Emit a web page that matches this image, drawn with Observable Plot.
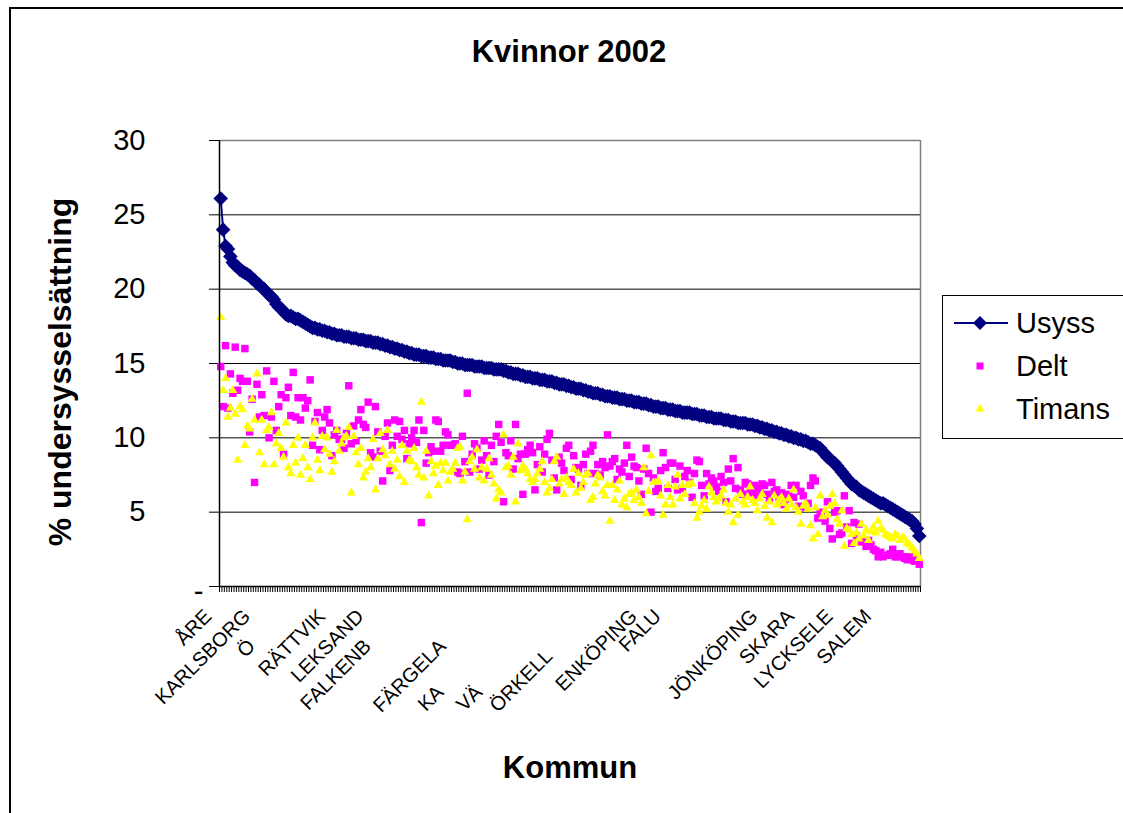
<!DOCTYPE html>
<html>
<head>
<meta charset="utf-8">
<script src="https://cdn.jsdelivr.net/npm/d3@7"></script>
<script src="https://cdn.jsdelivr.net/npm/@observablehq/plot@0.6"></script>
<style>
  html, body { margin: 0; padding: 0; background: #fff; }
  #wrap { position: relative; width: 1123px; height: 813px; overflow: hidden; background: #fff;
          font-family: "Liberation Sans", Arial, sans-serif; color: #000; }
  #frame { position: absolute; left: 9px; top: 7px; width: 1300px; height: 1000px; border: 2px solid #000; box-sizing: border-box; }
  #chart { position: absolute; left: 0; top: 0; }
  .title { position: absolute; font-weight: bold; white-space: nowrap; }
  #title { left: 569px; top: 52px; transform: translate(-50%, -50%); font-size: 31px; }
  #ytitle { left: 60px; top: 372px; transform: translate(-50%, -50%) rotate(-90deg); font-size: 32px; }
  #xtitle { left: 570px; top: 768px; transform: translate(-50%, -50%); font-size: 31px; }
  #legend { position: absolute; left: 942px; top: 295px; width: 300px; height: 144px; border: 1px solid #000; box-sizing: border-box; background: #fff; }
</style>
</head>
<body>
<div id="wrap">
  <div id="frame"></div>
  <div id="chart"></div>
  <div id="title" class="title"></div>
  <div id="ytitle" class="title"></div>
  <div id="xtitle" class="title"></div>
  <div id="legend"></div>
</div>
<script>
// ---------------- data ----------------
const chartTitle = "Kvinnor 2002";
const yTitle = "% undersysselsättning";
const xTitle = "Kommun";
const seriesNames = ["Usyss", "Delt", "Timans"];
const seriesColors = ["#000080", "#FF00FF", "#FFFF00"];

const yTicks = [0, 5, 10, 15, 20, 25, 30];
const gridValues = [5, 10, 15, 20, 25];

// visible category labels (kommun index, text as shown)
const labelsRow1 = [
  {i: 0, name: "ÅRE"}, {i: 16, name: "KARLSBORG"}, {i: 47, name: "RÄTTVIK"},
  {i: 63, name: "LEKSAND"}, {i: 176, name: "ENKÖPING"}, {i: 186, name: "FALU"},
  {i: 226, name: "JÖNKÖPING"}, {i: 241, name: "SKARA"}, {i: 257, name: "LYCKSELE"},
  {i: 273, name: "SALEM"}
];
const labelsRow2 = [
  {i: 18, name: "Ö"}, {i: 66, name: "FALKENB"}, {i: 97, name: "FÄRGELA"}
];
const labelsRow3 = [
  {i: 141, name: "ÖRKELL"}
];
const labelsRow4 = [
  {i: 96, name: "KA"}, {i: 112, name: "VÄ"}
];

const usyss = [
  26.1, 24.0, 22.9, 22.7, 22.2, 21.8, 21.6, 21.5, 21.3, 21.2,
  21.1, 21.0, 20.9, 20.7, 20.6, 20.4, 20.3, 20.1, 20.0, 19.8,
  19.6, 19.5, 19.3, 19.0, 18.8, 18.7, 18.5, 18.3, 18.2, 18.2,
  18.1, 18.0, 18.0, 17.9, 17.8, 17.7, 17.6, 17.5, 17.4, 17.4,
  17.3, 17.3, 17.2, 17.2, 17.1, 17.1, 17.0, 17.0, 16.9, 16.9,
  16.9, 16.8, 16.8, 16.8, 16.7, 16.7, 16.7, 16.6, 16.6, 16.6,
  16.5, 16.5, 16.5, 16.4, 16.4, 16.4, 16.3, 16.3, 16.2, 16.2,
  16.1, 16.1, 16.0, 16.0, 15.9, 15.9, 15.8, 15.8, 15.7, 15.7,
  15.6, 15.6, 15.6, 15.5, 15.5, 15.5, 15.4, 15.4, 15.4, 15.3,
  15.3, 15.3, 15.2, 15.2, 15.2, 15.2, 15.1, 15.1, 15.0, 15.0,
  15.0, 14.9, 14.9, 14.9, 14.9, 14.8, 14.8, 14.8, 14.8, 14.7,
  14.7, 14.7, 14.7, 14.6, 14.6, 14.6, 14.6, 14.5, 14.5, 14.4,
  14.4, 14.3, 14.3, 14.3, 14.2, 14.2, 14.1, 14.1, 14.1, 14.0,
  14.0, 14.0, 13.9, 13.9, 13.9, 13.8, 13.8, 13.8, 13.7, 13.7,
  13.6, 13.6, 13.6, 13.5, 13.5, 13.4, 13.4, 13.3, 13.3, 13.3,
  13.2, 13.2, 13.1, 13.1, 13.0, 13.0, 13.0, 12.9, 12.9, 12.8,
  12.8, 12.8, 12.7, 12.7, 12.7, 12.6, 12.6, 12.6, 12.5, 12.5,
  12.5, 12.4, 12.4, 12.4, 12.3, 12.3, 12.3, 12.2, 12.2, 12.1,
  12.1, 12.1, 12.0, 12.0, 12.0, 11.9, 11.9, 11.9, 11.8, 11.8,
  11.8, 11.7, 11.7, 11.7, 11.7, 11.6, 11.6, 11.6, 11.5, 11.5,
  11.5, 11.4, 11.4, 11.4, 11.3, 11.3, 11.3, 11.3, 11.2, 11.2,
  11.2, 11.1, 11.1, 11.1, 11.0, 11.0, 11.0, 11.0, 10.9, 10.9,
  10.9, 10.8, 10.8, 10.7, 10.7, 10.6, 10.6, 10.5, 10.5, 10.4,
  10.4, 10.3, 10.3, 10.2, 10.2, 10.1, 10.1, 10.0, 10.0, 9.9,
  9.9, 9.8, 9.8, 9.7, 9.6, 9.6, 9.5, 9.4, 9.3, 9.1,
  8.9, 8.7, 8.6, 8.4, 8.3, 8.1, 7.9, 7.7, 7.5, 7.3,
  7.1, 6.9, 6.8, 6.7, 6.5, 6.4, 6.3, 6.2, 6.1, 6.0,
  5.9, 5.8, 5.7, 5.6, 5.6, 5.5, 5.4, 5.3, 5.2, 5.1,
  5.0, 4.9, 4.8, 4.7, 4.6, 4.5, 4.4, 4.2, 3.9, 3.4
];

const delt = [
  14.8, 12.1, 16.2, 12.0, 14.3, 13.0, 16.1, 13.2, 14.0, 13.8,
  16.0, 13.8, 10.4, 12.6, 7.0, 13.6, 11.4, 12.9, 11.5, 14.5,
  10.0, 11.4, 13.8, 10.5, 12.1, 12.9, 8.9, 12.7, 13.4, 11.5,
  14.4, 11.4, 12.7, 11.2, 12.7, 12.0, 12.5, 13.9, 9.5, 11.1,
  11.7, 9.2, 10.5, 11.4, 11.9, 11.0, 8.8, 10.2, 10.5, 9.9,
  9.9, 9.3, 10.3, 13.5, 9.6, 10.8, 9.8, 11.2, 11.9, 10.9,
  10.7, 12.4, 9.0, 8.7, 12.1, 10.4, 9.1, 7.1, 10.1, 11.0,
  7.8, 9.5, 11.2, 10.1, 11.1, 9.9, 10.5, 8.6, 9.6, 10.0,
  10.5, 9.7, 11.2, 4.3, 10.5, 8.3, 9.0, 9.4, 9.1, 11.2,
  11.1, 9.1, 9.5, 10.4, 10.2, 9.5, 9.5, 9.6, 7.7, 7.6,
  10.1, 8.4, 13.0, 7.7, 8.9, 9.6, 9.3, 7.9, 8.5, 9.8,
  8.8, 7.5, 9.5, 8.4, 10.1, 10.9, 9.7, 5.7, 9.0, 8.8,
  9.8, 7.9, 10.9, 8.6, 8.9, 6.2, 8.9, 9.2, 9.5, 9.0,
  6.5, 8.2, 9.4, 7.7, 8.9, 9.9, 10.3, 8.5, 7.3, 6.5,
  8.7, 8.3, 7.8, 9.3, 9.5, 7.2, 8.8, 8.0, 7.9, 6.8,
  8.2, 8.9, 7.6, 9.1, 9.5, 7.6, 8.2, 7.5, 8.4, 8.0,
  10.2, 8.1, 8.4, 8.6, 7.2, 7.9, 7.7, 8.3, 9.5, 7.4,
  8.7, 8.1, 8.0, 7.1, 6.2, 7.9, 9.3, 7.6, 5.0, 7.3,
  6.4, 6.6, 7.8, 9.0, 8.0, 6.6, 8.3, 8.3, 7.2, 6.5,
  8.1, 6.6, 7.4, 7.8, 7.0, 6.0, 7.6, 8.5, 8.4, 6.8,
  6.1, 7.6, 6.9, 7.3, 7.1, 6.7, 6.4, 7.4, 7.0, 5.7,
  7.9, 7.1, 8.6, 6.6, 8.0, 6.5, 6.2, 7.0, 6.9, 6.5,
  6.3, 6.8, 6.1, 6.6, 6.9, 6.8, 6.2, 5.9, 7.0, 6.4,
  6.5, 6.0, 6.3, 5.5, 5.9, 6.2, 6.8, 6.0, 6.8, 5.4,
  6.4, 6.1, 5.3, 5.6, 6.8, 7.3, 7.1, 4.6, 5.0, 4.8,
  4.4, 5.7, 3.9, 3.2, 5.0, 5.1, 3.5, 3.6, 6.1, 4.0,
  5.1, 2.9, 4.3, 3.4, 4.2, 3.0, 3.1, 2.7, 3.1, 2.8,
  2.5, 2.4, 2.0, 2.3, 2.0, 2.1, 2.1, 2.2, 2.5, 2.0,
  2.0, 2.2, 2.0, 1.9, 1.8, 2.0, 1.8, 1.7, 1.9, 1.5
];

const timans = [
  18.1, 13.2, 14.0, 11.4, 12.0, 13.2, 11.6, 8.5, 12.1, 11.9,
  9.5, 10.8, 10.6, 12.6, 11.2, 14.3, 9.0, 11.2, 8.2, 10.5,
  10.7, 11.7, 8.2, 9.6, 10.3, 9.3, 8.7, 11.0, 8.0, 7.6,
  9.5, 8.3, 10.0, 7.5, 8.6, 9.5, 8.0, 7.2, 10.0, 11.0,
  8.5, 7.8, 10.1, 9.2, 10.0, 8.9, 7.7, 8.4, 10.5, 9.1,
  9.6, 10.0, 10.1, 10.7, 6.3, 10.1, 9.0, 8.2, 9.3, 7.3,
  7.7, 8.6, 8.0, 9.9, 6.5, 8.6, 10.3, 9.2, 8.8, 10.5,
  8.2, 9.1, 7.9, 8.5, 7.4, 9.5, 7.0, 9.1, 8.5, 8.4,
  9.3, 8.0, 7.5, 12.4, 7.3, 9.1, 6.1, 8.4, 7.6, 8.1,
  6.8, 8.3, 7.8, 8.3, 7.1, 7.7, 7.9, 8.3, 9.3, 9.4,
  7.1, 7.7, 4.5, 8.4, 8.7, 7.9, 9.2, 7.3, 8.0, 7.1,
  7.9, 8.6, 7.5, 6.9, 5.9, 6.5, 6.3, 10.2, 8.0, 8.1,
  7.5, 8.7, 5.7, 9.6, 7.8, 8.1, 7.9, 7.6, 7.2, 7.0,
  7.2, 7.6, 7.9, 8.4, 7.0, 6.3, 6.6, 7.2, 8.4, 8.7,
  6.9, 7.2, 6.2, 7.3, 7.0, 6.8, 7.9, 6.3, 7.6, 6.6,
  7.0, 7.5, 7.6, 5.8, 6.0, 6.9, 7.5, 7.3, 6.4, 6.1,
  6.8, 4.4, 6.8, 5.8, 6.5, 7.1, 5.5, 5.9, 5.3, 6.2,
  6.3, 5.8, 6.5, 6.0, 5.6, 8.0, 4.9, 6.4, 8.8, 7.0,
  7.0, 7.1, 6.1, 4.8, 5.5, 6.8, 6.0, 5.5, 6.7, 7.5,
  5.9, 6.8, 6.2, 6.8, 6.9, 6.9, 5.6, 4.6, 5.0, 5.4,
  5.8, 5.2, 6.7, 6.3, 6.0, 5.7, 5.9, 6.1, 6.5, 5.6,
  5.0, 5.5, 4.3, 5.9, 4.8, 6.2, 5.7, 5.5, 6.0, 6.7,
  5.8, 5.6, 5.1, 5.9, 6.2, 5.4, 4.6, 5.7, 4.3, 6.1,
  5.5, 5.8, 6.0, 5.6, 5.2, 5.9, 5.5, 6.5, 5.3, 5.0,
  4.2, 5.4, 5.6, 5.2, 4.1, 3.2, 5.3, 3.5, 6.1, 4.7,
  5.1, 4.8, 5.4, 6.2, 5.6, 4.5, 4.2, 5.1, 2.7, 3.9,
  3.8, 3.5, 2.9, 3.6, 3.2, 4.2, 3.4, 3.8, 3.1, 3.7,
  4.0, 3.6, 4.4, 3.9, 3.8, 3.5, 3.4, 3.3, 3.2, 3.5,
  3.4, 3.1, 3.3, 3.2, 2.9, 2.8, 2.6, 2.4, 2.2, 1.9
];

// ---------------- build ----------------
const rows = usyss.map((u, i) => ({i, usyss: u, delt: delt[i], timans: timans[i]}));
const n = usyss.length;
const xMin = -0.5, xMax = n - 0.5;
const boundaries = d3.range(n + 1).map(k => k - 0.5);

const labelFont = 20;
const labelMark = (data, dy) => Plot.text(data, {
  x: "i", frameAnchor: "bottom", text: "name", rotate: -45, textAnchor: "end",
  dx: -8, dy, fontSize: labelFont, fill: "#000"
});

const chart = Plot.plot({
  width: 1123,
  height: 813,
  marginLeft: 219,
  marginRight: 203,
  marginTop: 140,
  marginBottom: 227,
  style: {fontFamily: "'Liberation Sans', Arial, sans-serif", fontSize: "29px", background: "transparent", color: "#000"},
  x: {type: "linear", domain: [xMin, xMax], ticks: boundaries, tickFormat: () => "", tickSize: 6, label: null},
  y: {domain: [0, 30], ticks: yTicks, tickSize: 10, tickPadding: 64,
      tickFormat: d => d === 0 ? "" : String(d), label: null},
  marks: [
    Plot.ruleY(gridValues, {stroke: "#000", strokeWidth: 1}),
    Plot.ruleY([30], {stroke: "#808080", strokeWidth: 1.5}),
    Plot.ruleX([xMax], {stroke: "#808080", strokeWidth: 1.5}),
    Plot.line(rows, {x: "i", y: "usyss", stroke: seriesColors[0], strokeWidth: 2}),
    Plot.dot(rows, {x: "i", y: "usyss", symbol: "diamond2", r: 6.6, fill: seriesColors[0]}),
    Plot.dot(rows, {x: "i", y: "delt", symbol: "square", r: 4.2, fill: seriesColors[1]}),
    Plot.dot(rows, {x: "i", y: "timans", symbol: "triangle", r: 3.4, fill: seriesColors[2]}),
    Plot.ruleX([xMin], {stroke: "#000", strokeWidth: 1.5}),
    Plot.ruleY([0], {stroke: "#000", strokeWidth: 1.5}),
    Plot.text([0], {y: d => d, frameAnchor: "left", text: () => "-", dx: -21, dy: 5, textAnchor: "middle", fontSize: 29}),
    labelMark(labelsRow1, 31),
    labelMark(labelsRow2, 61),
    labelMark(labelsRow3, 71),
    labelMark(labelsRow4, 107)
  ]
});
document.getElementById("chart").appendChild(chart);

document.getElementById("title").textContent = chartTitle;
document.getElementById("ytitle").textContent = yTitle;
document.getElementById("xtitle").textContent = xTitle;

// legend
const lg = d3.select("#legend").append("svg").attr("width", 300).attr("height", 144)
  .style("font-family", "'Liberation Sans', Arial, sans-serif");
const rowY = [27, 70, 113];
const sx = 37;
lg.append("line").attr("x1", 11).attr("x2", 65).attr("y1", rowY[0]).attr("y2", rowY[0])
  .attr("stroke", seriesColors[0]).attr("stroke-width", 2);
lg.append("path").attr("d", d3.symbol(d3.symbolDiamond2, 125)()).attr("transform", `translate(${sx},${rowY[0]})`).attr("fill", seriesColors[0]);
lg.append("path").attr("d", d3.symbol(d3.symbolSquare, 49)()).attr("transform", `translate(${sx},${rowY[1]})`).attr("fill", seriesColors[1]);
lg.append("path").attr("d", d3.symbol(d3.symbolTriangle, 34)()).attr("transform", `translate(${sx},${rowY[2]})`).attr("fill", seriesColors[2]);
seriesNames.forEach((s, k) => {
  lg.append("text").attr("x", 73).attr("y", rowY[k]).attr("dy", "0.35em")
    .attr("font-size", 29).text(s);
});
</script>
</body>
</html>
